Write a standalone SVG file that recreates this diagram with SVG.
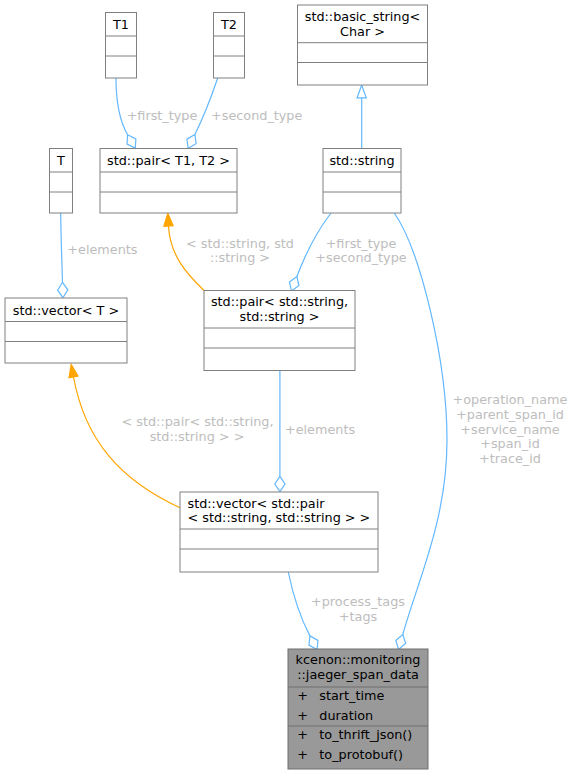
<svg xmlns="http://www.w3.org/2000/svg" width="573" height="775" viewBox="0 0 573 775">
<style>
text{font-family:"DejaVu Sans","Liberation Sans",sans-serif;font-size:12.8px;fill:#000}
.c{text-anchor:middle}
.lbl{fill:#bdbdbd;text-anchor:middle}
.box{fill:#fff;stroke:#808080;stroke-width:1}
.focus{fill:#999999;stroke:#6e6e6e;stroke-width:1}
.div{stroke:#808080;stroke-width:1}
.fdiv{stroke:#6e6e6e;stroke-width:1}
.agg{fill:none;stroke:#63B8FF;stroke-width:1.2;marker-end:url(#dia)}
.tpl{fill:none;stroke:#FFA500;stroke-width:1.2;marker-end:url(#tri)}
.inh{fill:none;stroke:#63B8FF;stroke-width:1.2;marker-end:url(#otri)}
</style>
<defs>
<marker id="dia" markerUnits="userSpaceOnUse" markerWidth="20" markerHeight="14" viewBox="-1 -7 18 14" refX="0" refY="0" orient="auto" overflow="visible">
<polygon points="0,0 7.7,-5.1 15.4,0 7.7,5.1" fill="#fff" stroke="#63B8FF" stroke-width="1.2"/>
</marker>
<marker id="tri" markerUnits="userSpaceOnUse" markerWidth="16" markerHeight="12" viewBox="-1 -6 15 12" refX="0" refY="0" orient="auto" overflow="visible">
<polygon points="0,-4.6 12.8,0 0,4.6" fill="#FFA500" stroke="#FFA500" stroke-width="1.2"/>
</marker>
<marker id="otri" markerUnits="userSpaceOnUse" markerWidth="16" markerHeight="12" viewBox="-1 -6 15 12" refX="0" refY="0" orient="auto" overflow="visible">
<polygon points="0,-4.6 12.8,0 0,4.6" fill="#fff" stroke="#63B8FF" stroke-width="1.2"/>
</marker>
</defs>

<g id="connectors">
<path class="agg" d="M116,78 C116,100 118.5,119 127.6,134.8"/>
<path class="agg" d="M217.7,78 C212,95 203,118 194.9,134.5"/>
<path class="agg" d="M60.7,213 C61,240 62,265 62.5,282.3"/>
<path class="agg" d="M331,213 C318,230 305,255 296.9,276.5"/>
<path class="agg" d="M279.9,370.5 L279.9,476.3"/>
<path class="agg" d="M288.3,572 C293,595 300,617 309.9,635.9"/>
<path class="agg" d="M394.3,213 C420,250 447,360 447,440 C447,520 418,580 402.8,634.5"/>
<path class="inh" d="M361.7,148 L361.7,97.8"/>
<path class="tpl" d="M204,290.5 C186,273 170,255 168.5,226"/>
<path class="tpl" d="M180,507.7 C120,480 85,440 73.5,377"/>
<text class="lbl" x="162" y="120">+first_type</text>
<text class="lbl" x="256.7" y="120">+second_type</text>
<text class="lbl" x="102.4" y="253.7">+elements</text>
<text class="lbl" x="240" y="247.7">&lt; std::string, std</text>
<text class="lbl" x="240" y="262">::string &gt;</text>
<text class="lbl" x="361" y="247.7">+first_type</text>
<text class="lbl" x="361" y="262">+second_type</text>
<text class="lbl" x="197.5" y="426">&lt; std::pair&lt; std::string,</text>
<text class="lbl" x="197" y="441">std::string &gt; &gt;</text>
<text class="lbl" x="320" y="434">+elements</text>
<text class="lbl" x="510" y="404">+operation_name</text>
<text class="lbl" x="510" y="418.7">+parent_span_id</text>
<text class="lbl" x="510" y="433.5">+service_name</text>
<text class="lbl" x="510" y="448.3">+span_id</text>
<text class="lbl" x="510" y="463">+trace_id</text>
<text class="lbl" x="358" y="605.7">+process_tags</text>
<text class="lbl" x="358" y="620.7">+tags</text>
</g>

<g id="T1">
<rect class="box" x="105.5" y="12.5" width="31" height="65.5"/>
<line class="div" x1="105.5" y1="36" x2="136.5" y2="36"/>
<line class="div" x1="105.5" y1="56" x2="136.5" y2="56"/>
<text class="c" x="121" y="29">T1</text>
</g>

<g id="T2">
<rect class="box" x="213.5" y="12.5" width="31" height="65.5"/>
<line class="div" x1="213.5" y1="36" x2="244.5" y2="36"/>
<line class="div" x1="213.5" y1="56" x2="244.5" y2="56"/>
<text class="c" x="229" y="29">T2</text>
</g>

<g id="basic_string">
<rect class="box" x="297.5" y="5" width="130" height="80"/>
<line class="div" x1="297.5" y1="42.7" x2="427.5" y2="42.7"/>
<line class="div" x1="297.5" y1="62.5" x2="427.5" y2="62.5"/>
<text class="c" x="362.5" y="21">std::basic_string&lt;</text>
<text class="c" x="362.5" y="36">Char &gt;</text>
</g>

<g id="T">
<rect class="box" x="49.5" y="148.5" width="23" height="64.5"/>
<line class="div" x1="49.5" y1="172" x2="72.5" y2="172"/>
<line class="div" x1="49.5" y1="192" x2="72.5" y2="192"/>
<text class="c" x="61" y="165">T</text>
</g>

<g id="pair_T1_T2">
<rect class="box" x="100" y="148.5" width="137" height="64.5"/>
<line class="div" x1="100" y1="172" x2="237" y2="172"/>
<line class="div" x1="100" y1="192" x2="237" y2="192"/>
<text class="c" x="168.5" y="165">std::pair&lt; T1, T2 &gt;</text>
</g>

<g id="std_string">
<rect class="box" x="323" y="148.5" width="78" height="64.5"/>
<line class="div" x1="323" y1="172" x2="401" y2="172"/>
<line class="div" x1="323" y1="192" x2="401" y2="192"/>
<text class="c" x="362" y="165">std::string</text>
</g>

<g id="vector_T">
<rect class="box" x="5" y="298" width="122" height="65"/>
<line class="div" x1="5" y1="321.5" x2="127" y2="321.5"/>
<line class="div" x1="5" y1="341.5" x2="127" y2="341.5"/>
<text class="c" x="66" y="314.5">std::vector&lt; T &gt;</text>
</g>

<g id="pair_string">
<rect class="box" x="204" y="290.5" width="151" height="80"/>
<line class="div" x1="204" y1="328" x2="355" y2="328"/>
<line class="div" x1="204" y1="348" x2="355" y2="348"/>
<text class="c" x="279.5" y="306">std::pair&lt; std::string,</text>
<text class="c" x="279.5" y="321">std::string &gt;</text>
</g>

<g id="vector_pair">
<rect class="box" x="180" y="492" width="198" height="80"/>
<line class="div" x1="180" y1="529" x2="378" y2="529"/>
<line class="div" x1="180" y1="549" x2="378" y2="549"/>
<text x="187.5" y="507.5">std::vector&lt; std::pair</text>
<text x="187.5" y="522">&lt; std::string, std::string &gt; &gt;</text>
</g>

<g id="jaeger_span_data">
<rect class="focus" x="288" y="649" width="140" height="120"/>
<line class="fdiv" x1="288" y1="687" x2="428" y2="687"/>
<line class="fdiv" x1="288" y1="726" x2="428" y2="726"/>
<text class="c" x="358" y="664">kcenon::monitoring</text>
<text class="c" x="358" y="679">::jaeger_span_data</text>
<text class="c" x="302.7" y="700">+</text>
<text x="319.3" y="700">start_time</text>
<text class="c" x="302.7" y="719.5">+</text>
<text x="319.3" y="719.5">duration</text>
<text class="c" x="302.7" y="739">+</text>
<text x="319.3" y="739">to_thrift_json()</text>
<text class="c" x="302.7" y="758.5">+</text>
<text x="319.3" y="758.5">to_protobuf()</text>
</g>
</svg>
